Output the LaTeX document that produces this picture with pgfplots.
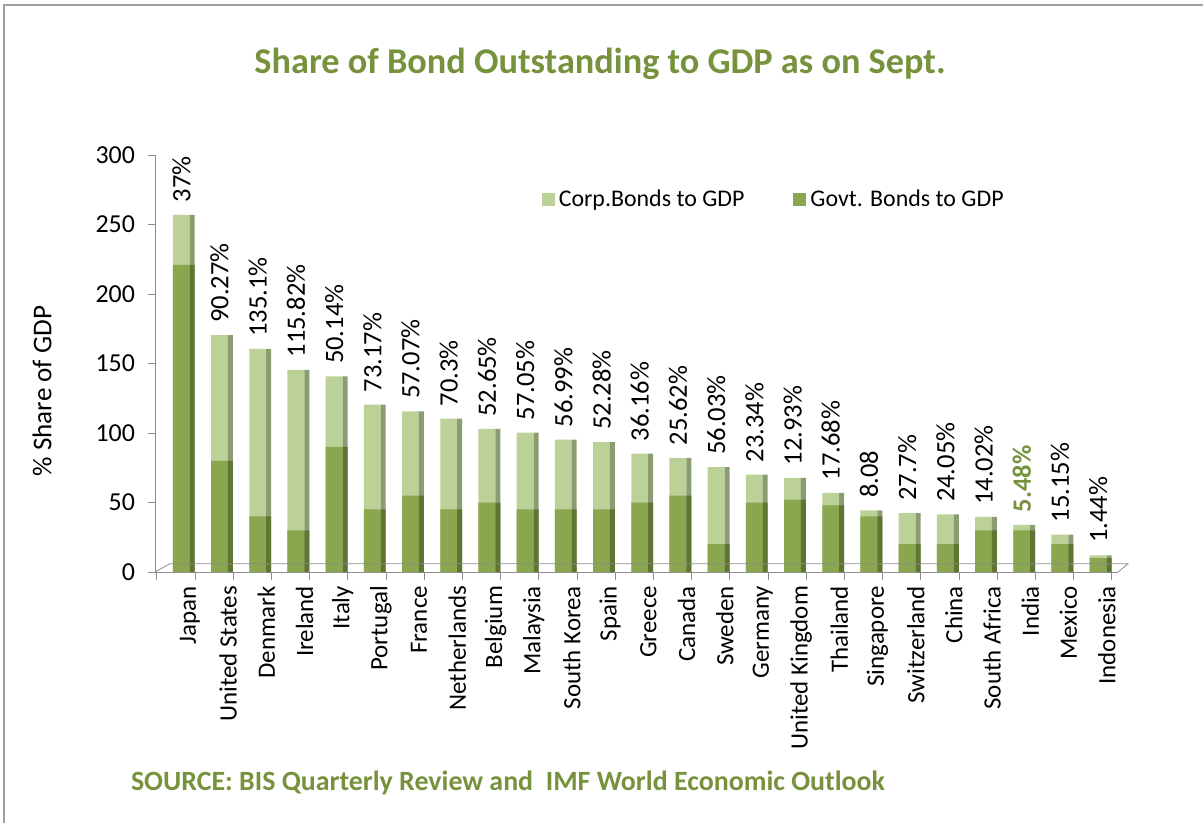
\documentclass[border=0pt]{standalone}
\usepackage{pgfplots}
\pgfplotsset{compat=1.18}
\usepackage{fontspec}
\setmainfont{Carlito}

\definecolor{govt}{HTML}{8AA64E}
\definecolor{govtside}{HTML}{5F7632}
\definecolor{corp}{HTML}{BBD197}
\definecolor{corpside}{HTML}{8C9C72}
\definecolor{titlegreen}{HTML}{76923C}
\definecolor{axisgray}{HTML}{8C8C8C}

\begin{document}
\begin{tikzpicture}
\begin{scope}[x=0.5bp,y=-0.5bp]
  \path[use as bounding box] (0,0) rectangle (1203,823);
  \draw[gray!75, line width=1.2bp] (4,823) -- (4,5) -- (1203,5);
  \node[font=\bfseries\fontsize{18.2}{21}\selectfont, text=titlegreen] at (600,64)
    {Share of Bond Outstanding to GDP as on Sept.};
  \node[anchor=west, font=\bfseries\fontsize{14}{16}\selectfont, text=titlegreen] at (124,783)
    {SOURCE: BIS Quarterly Review and\ \ IMF World Economic Outlook};
  \node[rotate=90, font=\fontsize{13.6}{16}\selectfont] at (42,391) {\% Share of GDP};
\end{scope}

\begin{axis}[
  at={(77.5bp,-286bp)}, anchor=south west,
  scale only axis, width=481.5bp, height=208.5bp,
  clip=false,
  ybar,
  xmin=-0.73, xmax=24.48,
  ymin=0, ymax=300,
  axis lines=left,
  axis line style={axisgray, -},
  tick align=outside,
  ytick={0,50,...,300},
  major tick length=3.5bp,
  minor tick length=4bp,
  y tick style={axisgray},
  xtick={0,...,24},
  major x tick style={draw=none},
  minor xtick={-0.69,0.31,...,24.31},
  minor x tick style={axisgray},
  xticklabels={Japan,United States,Denmark,Ireland,Italy,Portugal,France,Netherlands,Belgium,Malaysia,South Korea,Spain,Greece,Canada,Sweden,Germany,United Kingdom,Thailand,Singapore,Switzerland,China,South Africa,India,Mexico,Indonesia},
  xticklabel style={rotate=90, anchor=east, yshift=-3.5bp, font=\fontsize{12.5}{15}\selectfont},
  yticklabel style={xshift=-3bp, font=\fontsize{13}{15}\selectfont},
  /pgf/number format/assume math mode=true,
  legend columns=2,
  legend style={at={(0.395,0.893)}, anchor=west, draw=none, fill=none,
    font=\fontsize{12}{14}\selectfont,
    /tikz/every even column/.append style={column sep=22.5bp}},
  legend image code/.code={\fill[#1] (0bp,-3.2bp) rectangle (6.5bp,3.2bp);},
]
% Corp. bonds: front face reaches the total (govt + corp)
\addplot[fill=corp, draw=none, bar width=0.445, bar shift=-0.04,
  nodes near coords, point meta=explicit symbolic,
  nodes near coords style={font=\fontsize{13.3}{15}\selectfont, rotate=90, anchor=west, inner xsep=6bp, inner ysep=0pt}]
  coordinates {
  (0,257)[37\%] (1,170.5)[90.27\%] (2,160.5)[135.1\%] (3,145.5)[115.82\%] (4,140.8)[50.14\%]
  (5,120.4)[73.17\%] (6,115.6)[57.07\%] (7,110.3)[70.3\%] (8,103)[52.65\%] (9,100.2)[57.05\%]
  (10,95.2)[56.99\%] (11,93.5)[52.28\%] (12,85.1)[36.16\%] (13,82.2)[25.62\%] (14,75.5)[56.03\%]
  (15,70)[23.34\%] (16,67.8)[12.93\%] (17,57)[17.68\%] (18,44.4)[8.08] (19,42.4)[27.7\%]
  (20,41.5)[24.05\%] (21,39.6)[14.02\%] (22,34)[\textcolor{titlegreen}{\bfseries 5.48\%}] (23,26.9)[15.15\%] (24,12)[1.44\%]
  };
\addlegendentry{Corp.Bonds to GDP}
\addplot[fill=corpside, draw=none, bar width=0.13, bar shift=0.245, forget plot]
  coordinates {
  (0,257) (1,170.5) (2,160.5) (3,145.5) (4,140.8) (5,120.4) (6,115.6) (7,110.3) (8,103) (9,100.2)
  (10,95.2) (11,93.5) (12,85.1) (13,82.2) (14,75.5) (15,70) (16,67.8) (17,57) (18,44.4) (19,42.4)
  (20,41.5) (21,39.6) (22,34) (23,26.9) (24,12)
  };
% Govt. bonds
\addplot[fill=govt, draw=none, bar width=0.445, bar shift=-0.04]
  coordinates {
  (0,221) (1,80) (2,40) (3,30) (4,90) (5,45) (6,55) (7,45) (8,50) (9,45)
  (10,45) (11,45) (12,50) (13,55) (14,20) (15,50) (16,52) (17,48) (18,40) (19,20)
  (20,20) (21,30) (22,30) (23,20) (24,10)
  };
\addlegendentry{Govt. Bonds to GDP}
\addplot[fill=govtside, draw=none, bar width=0.13, bar shift=0.245, forget plot]
  coordinates {
  (0,221) (1,80) (2,40) (3,30) (4,90) (5,45) (6,55) (7,45) (8,50) (9,45)
  (10,45) (11,45) (12,50) (13,55) (14,20) (15,50) (16,52) (17,48) (18,40) (19,20)
  (20,20) (21,30) (22,30) (23,20) (24,10)
  };
\draw[axisgray] (axis cs:-0.73,0) -- (axis cs:-0.34,6) -- (axis cs:24.74,6) -- (axis cs:24.48,0);
\end{axis}
\end{tikzpicture}
\end{document}
